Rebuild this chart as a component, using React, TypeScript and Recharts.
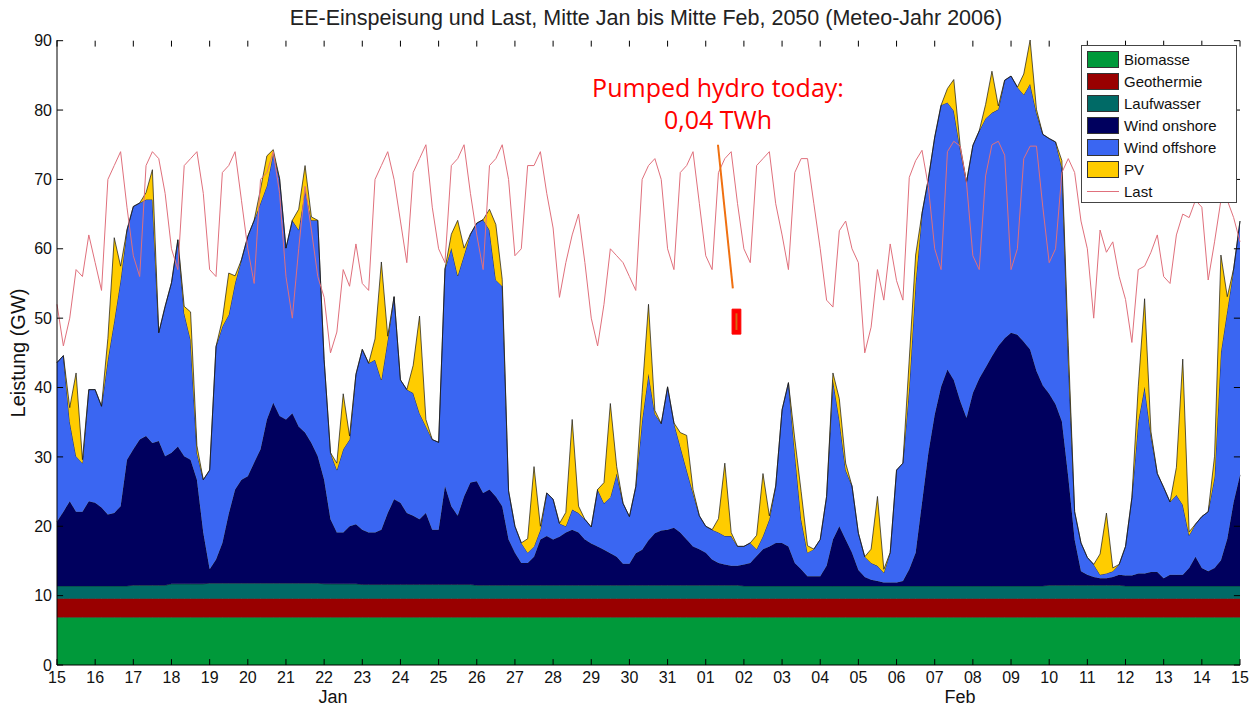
import React from 'react';
import { ComposedChart, Area, Line, XAxis, YAxis, ReferenceLine, ReferenceArea } from 'recharts';

// x axis: days since 15 Jan 00:00, one label per day
const dayLabels = [
  '15', '16', '17', '18', '19', '20', '21', '22', '23', '24', '25', '26', '27', '28', '29', '30', '31',
  '01', '02', '03', '04', '05', '06', '07', '08', '09', '10', '11', '12', '13', '14', '15',
];
const dayTicks = dayLabels.map((_, i) => i);
const yTicks = [0, 10, 20, 30, 40, 50, 60, 70, 80, 90];

// daily values (GW), 15 Jan .. 15 Feb
const biomasse = [
  6.9, 6.9, 6.9, 6.9, 6.9, 6.9, 6.9, 6.9, 6.9, 6.9, 6.9, 6.9, 6.9, 6.9, 6.9, 6.9,
  6.9, 6.9, 6.9, 6.9, 6.9, 6.9, 6.9, 6.9, 6.9, 6.9, 6.9, 6.9, 6.9, 6.9, 6.9, 6.9,
];
const geothermie = [
  2.7, 2.7, 2.7, 2.7, 2.7, 2.7, 2.7, 2.7, 2.7, 2.7, 2.7, 2.7, 2.7, 2.7, 2.7, 2.7,
  2.7, 2.7, 2.7, 2.7, 2.7, 2.7, 2.7, 2.7, 2.7, 2.7, 2.7, 2.7, 2.7, 2.7, 2.7, 2.7,
];
const laufwasser = [
  1.8, 1.8, 1.9, 2.1, 2.2, 2.2, 2.2, 2.1, 2.0, 2.0, 2.0, 1.9, 1.9, 1.9, 1.9, 1.9,
  1.9, 1.9, 1.8, 1.8, 1.8, 1.8, 1.8, 1.8, 1.8, 1.8, 1.9, 1.9, 1.8, 1.8, 1.8, 1.8,
];

// 4-hourly values (0, 4, 8, 12, 16, 20 h), one row per day
const windOnshore = [
  9.3, 10.7, 12.2, 10.7, 10.7, 12.2,
  12, 11.3, 10.3, 10.5, 11.5, 18.2,
  19.6, 21, 21.5, 20.5, 20.8, 18.6,
  18.9, 19.8, 18.4, 17.9, 15, 7.4,
  2, 3.4, 5.8, 10, 13.5, 14.9,
  15.4, 17.4, 19.3, 23.6, 26, 24.1,
  23.6, 24.5, 22.6, 21.7, 20.2, 18.3,
  15, 9.3, 7.4, 7.4, 8.3, 8.6,
  7.9, 7.5, 7.5, 7.9, 10.3, 12.3,
  11.8, 10.3, 9.9, 9.4, 10.3, 7.9,
  7.9, 14.2, 11.3, 9.9, 12.7, 14.7,
  15, 13.3, 13.8, 12.8, 11.4, 6.6,
  4.7, 3.2, 3.2, 4.1, 6.6, 7.1,
  6.6, 7, 7.6, 8, 7.6, 6.6,
  6, 5.6, 5.1, 4.6, 4.1, 3.1,
  3.1, 4.6, 5.1, 6.5, 7.5, 7.9,
  8, 8.3, 7.6, 6.6, 5.6, 5.2,
  4.7, 3.7, 3.2, 3, 2.8, 2.8,
  3.1, 3.3, 4.3, 5.3, 5.7, 6.2,
  6.2, 5.7, 3.3, 2.4, 1.4, 1.4,
  1.4, 2.9, 6.7, 8.6, 6.7, 4.8,
  2.3, 1.3, 0.9, 0.7, 0.5, 0.5,
  0.5, 0.7, 2.4, 4.8, 12, 19.2,
  24.7, 28.7, 31.2, 29.7, 26.7, 24.2,
  27.8, 29.9, 31.5, 33.1, 34.6, 35.7,
  36.5, 36.2, 35.2, 34.1, 31, 28.9,
  27.6, 26.1, 23.6, 15.6, 6.6, 2,
  1.5, 1.2, 1, 1, 1.2, 1.5,
  1.5, 1.5, 1.8, 1.8, 2, 2,
  1.1, 1.6, 1.6, 1.6, 2.6, 4.2,
  2.6, 2.1, 2.6, 3.7, 6.8, 12.1,
  16,
];
const windOffshore = [
  22.9, 22.5, 11.5, 8, 7, 16.1,
  16.3, 14.6, 22.4, 27.7, 32.6, 33.1,
  35, 34.1, 34.1, 35.1, 15.6, 21.6,
  24.5, 29.8, 20.6, 17.3, 3.9, 7.6,
  14.3, 30.7, 31.2, 28.7, 29.8, 31.7,
  34.6, 34.9, 35.5, 33.7, 36, 34.2,
  24.7, 27.8, 28.3, 35, 32.1, 34,
  17.3, 9.6, 9, 12, 12.5, 21.6,
  26, 24.4, 24.9, 21.6, 25, 29.2,
  17.7, 17.8, 17.7, 15.3, 12.5, 13,
  12.6, 31.3, 37.2, 34.6, 34.8, 35.8,
  37.2, 39.4, 37.4, 31.2, 31.7, 7,
  3.8, 2.9, 1.5, 1.5, 1.4, 6.2,
  5.8, 1.9, 0.9, 2.9, 2.8, 2.9,
  2.4, 8.2, 6.7, 8.1, 12, 8.7,
  6.8, 9.6, 18.7, 24, 17.2, 15.4,
  20.6, 15.1, 12.4, 10, 7.7, 4.8,
  3.8, 4.3, 4.4, 4.1, 4.3, 2.8,
  2.6, 2.9, 1, 1.9, 3.9, 8.2,
  19.2, 23.6, 15.9, 7.2, 3.4, 3.9,
  5.3, 10, 23, 15.4, 10, 9.6,
  5.3, 2.9, 2.4, 2.2, 1.4, 4.3,
  16.2, 17, 26.3, 38.9, 41.7, 39.5,
  40, 40.6, 38.5, 38.8, 36.3, 34,
  35.7, 35.7, 35.9, 35.1, 34.1, 37.2,
  37, 35.7, 35.6, 38.3, 37.2, 36.2,
  36.8, 37.8, 36.6, 17, 4, 4.1,
  2.5, 1.8, 0.5, 0.7, 0.8, 1.5,
  4.2, 11.2, 21.9, 26.9, 19.7, 14.2,
  13.1, 10.5, 11.5, 10.1, 4.7, 4.7,
  7.4, 8.6, 13.1, 30, 32.9, 33.6,
  36.6,
];
const pv = [
  0, 0, 2, 12, 0.5, 0,
  0, 0, 3, 12, 2, 0,
  0, 0, 1, 4.3, 0, 0,
  0, 0, 1, 4, 1, 0,
  0, 0, 1, 6, 1, 0,
  0, 0, 2, 4.3, 0.5, 0,
  0, 0, 3, 3.5, 0.5, 0,
  0, 0, 1, 8, 0.5, 0,
  0, 0, 3, 17, 0.5, 0,
  0, 0, 4, 14, 1, 0,
  0, 0, 2, 8, 1, 0,
  0, 0, 3, 8, 1, 0,
  0, 0, 2, 11.5, 0.5, 0,
  0, 0, 2, 13, 1, 0,
  0, 0, 3, 13.5, 1, 0,
  0, 0, 4, 10, 0.5, 0,
  0, 0, 2, 5, 0.5, 0,
  0, 0, 2, 10.5, 0.5, 0,
  0, 0, 2, 9, 0.5, 0,
  0, 0, 2, 4, 1, 0,
  0, 0, 1, 3, 1, 0,
  0, 0, 2, 10, 0.5, 0,
  0, 0, 4, 4, 0, 0,
  0, 0, 2, 4.5, 0.5, 0,
  0, 0, 2, 6, 0.5, 0,
  0, 0, 3, 6.3, 0.5, 0,
  0, 0, 1, 2, 0, 0,
  0, 0, 3, 8.7, 0.5, 0,
  0, 0, 5, 12.7, 0.5, 0,
  0, 0, 4, 21, 0.5, 0,
  0, 0, 3, 14, 2, 0,
  0,
];
const last = [
  52, 46, 50, 57, 56, 62,
  58, 54, 70, 72, 74, 66,
  59, 56, 72, 74, 73, 68,
  60, 57, 72, 73, 74, 68,
  57, 56, 71, 72, 74, 67,
  60, 55, 70, 71, 74, 68,
  56, 50, 60, 69, 62.7, 56,
  53, 45, 48, 57, 54.6, 60.7,
  55, 54, 70, 72, 74, 70,
  64, 58, 71, 73, 75, 66,
  60, 58, 72, 73, 75, 68,
  62, 57, 72, 73, 75, 70,
  59, 60, 72, 72, 74, 68,
  63, 53, 58, 62, 65, 58,
  50, 46, 52, 60, 59, 58,
  56, 54, 70, 72, 73, 70,
  60, 57, 71, 72, 74, 66.5,
  59, 57, 71, 73, 74, 66.5,
  60, 58, 72, 73, 74, 66.5,
  62, 57, 71, 73, 73, 66.5,
  60, 52.6, 51.6, 62.6, 64, 60,
  58, 45, 48.7, 57, 52.6, 60.7,
  55.4, 52.6, 70.3, 72.7, 74.2, 69,
  60, 57, 74, 75.5, 74.8, 69.5,
  59, 57, 70.5, 75, 75.5, 73.5,
  57, 60, 73, 74.8, 74.8, 66,
  58, 60, 71, 73, 71, 64,
  60, 50, 62.7, 59.5, 61, 56,
  52.7, 46.5, 57, 57.5, 59.5, 62,
  56, 55, 62, 65, 64.5, 67,
  66, 55.5, 61, 67, 67, 64.5,
  61,
];

const STEPS_PER_DAY = 6;
const data = windOnshore.map((_, i) => {
  const day = Math.floor(i / STEPS_PER_DAY);
  return {
    t: i / STEPS_PER_DAY,
    biomasse: biomasse[day],
    geothermie: geothermie[day],
    laufwasser: laufwasser[day],
    onshore: windOnshore[i],
    offshore: windOffshore[i],
    pv: pv[i],
    last: last[i],
  };
});

const series = [
  { key: 'biomasse', name: 'Biomasse', color: '#00993a' },
  { key: 'geothermie', name: 'Geothermie', color: '#990000' },
  { key: 'laufwasser', name: 'Laufwasser', color: '#006a66' },
  { key: 'onshore', name: 'Wind onshore', color: '#00005e' },
  { key: 'offshore', name: 'Wind offshore', color: '#3a66f2' },
  { key: 'pv', name: 'PV', color: '#ffcc00' },
];
const LAST_COLOR = '#e0707c';

const FONT = '"Liberation Sans", Arial, Helvetica, sans-serif';
const tickStyle = { fill: '#111', fontSize: 16, fontFamily: FONT };

// inward tick marks (matlab style), lengths in axis units
const X_TICK_LEN = 0.85; // GW
const Y_TICK_LEN = 0.16; // days

// annotation in axis units (days, GW)
const pointer = [{ x: 17.32, y: 75 }, { x: 17.71, y: 54.3 }];
const storageBox = { x1: 17.69, x2: 17.92, y1: 47.7, y2: 51.3 };

function LegendBox() {
  return (
    <div
      style={{
        position: 'absolute', left: 1081, top: 45, width: 154, height: 156,
        background: '#fff', border: '1px solid #444', fontFamily: FONT, fontSize: 15, color: '#111',
      }}
    >
      {series.map((s, i) => (
        <div key={s.key} style={{ position: 'absolute', left: 5, top: 5 + i * 22, height: 16, display: 'flex', alignItems: 'center' }}>
          <div style={{ width: 30, height: 15, background: s.color, border: '1px solid #333', marginRight: 5 }} />
          <span>{s.name}</span>
        </div>
      ))}
      <div style={{ position: 'absolute', left: 5, top: 137, height: 16, display: 'flex', alignItems: 'center' }}>
        <div style={{ width: 32, height: 0, borderTop: `1px solid ${LAST_COLOR}`, marginRight: 5 }} />
        <span>Last</span>
      </div>
    </div>
  );
}

export default function App() {
  return (
    <div style={{ position: 'absolute', left: 0, top: 0, width: 1257, height: 709, background: '#fff' }}>
      <ComposedChart width={1257} height={709} data={data} margin={{ top: 40, right: 17, bottom: 14, left: 7 }}>
        {series.map((s) => (
          <Area
            key={s.key}
            type="linear"
            dataKey={s.key}
            name={s.name}
            stackId="ee"
            fill={s.color}
            fillOpacity={1}
            stroke="#151515"
            strokeWidth={0.7}
            dot={false}
            activeDot={false}
            isAnimationActive={false}
          />
        ))}
        <Line type="linear" dataKey="last" name="Last" stroke={LAST_COLOR} strokeWidth={1} dot={false} activeDot={false} isAnimationActive={false} />
        {dayTicks.map((d) => (
          <ReferenceLine key={`xb${d}`} segment={[{ x: d, y: 0 }, { x: d, y: X_TICK_LEN }]} stroke="#000" strokeWidth={1} />
        ))}
        {dayTicks.map((d) => (
          <ReferenceLine key={`xt${d}`} segment={[{ x: d, y: 90 }, { x: d, y: 90 - X_TICK_LEN }]} stroke="#000" strokeWidth={1} />
        ))}
        {yTicks.map((v) => (
          <ReferenceLine key={`yl${v}`} segment={[{ x: 0, y: v }, { x: Y_TICK_LEN, y: v }]} stroke="#000" strokeWidth={1} />
        ))}
        {yTicks.map((v) => (
          <ReferenceLine key={`yr${v}`} segment={[{ x: 31, y: v }, { x: 31 - Y_TICK_LEN, y: v }]} stroke="#000" strokeWidth={1} />
        ))}
        <ReferenceLine segment={pointer} stroke="#f07010" strokeWidth={2} />
        <ReferenceArea {...storageBox} fill="#ff0000" fillOpacity={1} stroke="#ff0000" />
        <ReferenceArea x1={17.78} x2={17.83} y1={48.3} y2={50.7} fill="#d46a14" fillOpacity={1} stroke="none" />
        <XAxis
          type="number"
          dataKey="t"
          domain={[0, 31]}
          ticks={dayTicks}
          interval={0}
          tickFormatter={(v: number) => dayLabels[v]}
          height={30}
          tickSize={0}
          tickMargin={7}
          axisLine={{ stroke: '#000' }}
          tickLine={false}
          tick={tickStyle}
        />
        <XAxis
          xAxisId="top"
          orientation="top"
          type="number"
          domain={[0, 31]}
          ticks={dayTicks}
          height={0}
          tickSize={0}
          tick={false}
          tickLine={false}
          axisLine={{ stroke: '#000' }}
        />
        <YAxis
          type="number"
          domain={[0, 90]}
          ticks={yTicks}
          interval={0}
          width={50}
          tickSize={0}
          tickMargin={5}
          axisLine={{ stroke: '#000' }}
          tickLine={false}
          tick={tickStyle}
        />
        <YAxis
          yAxisId="right"
          orientation="right"
          type="number"
          domain={[0, 90]}
          ticks={yTicks}
          width={0}
          tickSize={0}
          tick={false}
          tickLine={false}
          axisLine={{ stroke: '#000' }}
        />
      </ComposedChart>
      <svg width={1257} height={709} style={{ position: 'absolute', left: 0, top: 0, pointerEvents: 'none' }}>
        <text x={646} y={25} textAnchor="middle" fontFamily={FONT} fontSize={21.5} fill="#222">
          EE-Einspeisung und Last, Mitte Jan bis Mitte Feb, 2050 (Meteo-Jahr 2006)
        </text>
        <text transform="translate(25,353) rotate(-90)" textAnchor="middle" fontFamily={FONT} fontSize={20} fill="#111">
          Leistung (GW)
        </text>
        <text x={333} y={703} textAnchor="middle" fontFamily={FONT} fontSize={18} fill="#111">Jan</text>
        <text x={960} y={703} textAnchor="middle" fontFamily={FONT} fontSize={18} fill="#111">Feb</text>
        <text x={718} y={97} textAnchor="middle" fontFamily='"Open Sans", sans-serif' fontSize={25} fill="#ff0000">
          Pumped hydro today:
        </text>
        <text x={718} y={129} textAnchor="middle" fontFamily='"Open Sans", sans-serif' fontSize={25} fill="#ff0000">
          0,04 TWh
        </text>
      </svg>
      <LegendBox />
    </div>
  );
}
